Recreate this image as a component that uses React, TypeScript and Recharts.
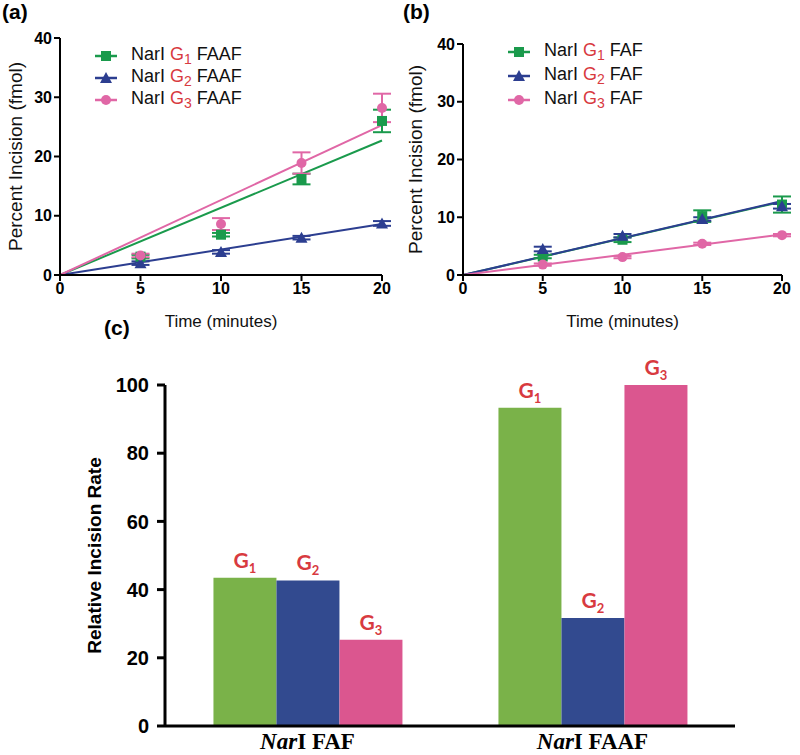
import React from 'react';
import { ComposedChart, Line, Scatter, ErrorBar, XAxis, YAxis, BarChart, Bar, LabelList, Label } from 'recharts';

// time-course panels
const timePoints = [5, 10, 15, 20];
const timeTicks = [0, 5, 10, 15, 20];
const incisionTicks = [0, 10, 20, 30, 40];

// (a) NarI FAAF
const faafG1 = [3.1, 6.8, 16.2, 26.0];
const faafG1Err = [0.3, 0.3, 0.9, 1.9];
const faafG2 = [2.0, 3.9, 6.3, 8.7];
const faafG2Err = [0.3, 0.3, 0.3, 0.4];
const faafG3 = [3.3, 8.6, 18.9, 28.2];
const faafG3Err = [0.3, 1.0, 1.8, 2.4];
const faafFitAt20 = [22.7, 8.6, 25.3];

// (b) NarI FAF
const fafG1 = [3.2, 6.1, 10.2, 12.2];
const fafG1Err = [0.3, 0.4, 1.0, 1.4];
const fafG2 = [4.5, 6.8, 9.7, 11.9];
const fafG2Err = [0.4, 0.3, 0.3, 0.4];
const fafG3 = [1.8, 3.1, 5.4, 6.9];
const fafG3Err = [0.2, 0.2, 0.2, 0.2];
const fafFitAt20 = [12.7, 12.8, 7.0];

// (c) relative rates
const rateCategories = ['FAF', 'FAAF'];
const rateG1 = [43.5, 93.3];
const rateG2 = [42.7, 31.7];
const rateG3 = [25.3, 100];
const rateTicks = [0, 20, 40, 60, 80, 100];

const RED = '#d83a3f';
const lineColors = ['#1a9a4c', '#2c3e90', '#e067a6'];
const barColors = ['#7ab249', '#324a8f', '#db568f'];
const shapes = ['square', 'triangle', 'circle'];
const SANS = '"Liberation Sans", Arial, sans-serif';
const NARROW = '"Liberation Sans Narrow", "Liberation Sans", Arial, sans-serif';

const toPoints = (vals: number[], errs: number[]) =>
  timePoints.map((t, i) => ({ t, v: vals[i], err: errs[i] }));
const toFit = (end: number) => [{ t: 0, v: 0 }, { t: 20, v: end }];

function Marker({ cx, cy, kind, color }: any) {
  if (kind === 'square') return <rect x={cx - 5} y={cy - 5} width={10} height={10} fill={color} />;
  if (kind === 'triangle') return <polygon points={`${cx},${cy - 6} ${cx + 6},${cy + 5} ${cx - 6},${cy + 5}`} fill={color} />;
  return <circle cx={cx} cy={cy} r={5} fill={color} />;
}

function SeriesLegend({ suffix, rowHeight, left, top }: any) {
  return (
    <div style={{ position: 'absolute', left, top, fontFamily: SANS, fontSize: 18, color: '#111' }}>
      {shapes.map((kind, i) => (
        <div key={kind} style={{ display: 'flex', alignItems: 'center', height: rowHeight }}>
          <svg width={22} height={14}>
            <line x1={0} y1={7} x2={22} y2={7} stroke={lineColors[i]} strokeWidth={2.5} />
            <Marker cx={11} cy={7} kind={kind} color={lineColors[i]} />
          </svg>
          <span style={{ marginLeft: 14, whiteSpace: 'nowrap' }}>
            NarI <span style={{ color: RED }}>G<sub style={{ fontSize: 14, verticalAlign: '-0.3em' }}>{i + 1}</sub></span> {suffix}
          </span>
        </div>
      ))}
    </div>
  );
}

const axisProps = {
  axisLine: { stroke: '#000', strokeWidth: 2 },
  tickLine: { stroke: '#000', strokeWidth: 2 },
  tickSize: 6,
  tick: { fill: '#000', fontSize: 16, fontWeight: 'bold', fontFamily: SANS },
};

function TimeCourse({ series, fits, top, yWidth }: any) {
  const plotBottom = 275;
  return (
    <ComposedChart width={400} height={plotBottom + 60} margin={{ top, right: 18, left: 0, bottom: 0 }}>
      <XAxis type="number" dataKey="t" domain={[0, 20]} ticks={timeTicks} height={60} allowDuplicatedCategory={false} {...axisProps}>
        <Label value="Time (minutes)" position="insideBottom" offset={8} style={{ fontFamily: NARROW, fontSize: 17, fill: '#111' }} />
      </XAxis>
      <YAxis type="number" domain={[0, 40]} ticks={incisionTicks} width={yWidth} {...axisProps}>
        <Label value="Percent Incision (fmol)" angle={-90} position="insideLeft" offset={15} style={{ textAnchor: 'middle', fontFamily: SANS, fontSize: 19, fill: '#111' }} />
      </YAxis>
      {fits.map((end: number, i: number) => (
        <Line key={`fit${i}`} data={toFit(end)} dataKey="v" stroke={lineColors[i]} strokeWidth={2} dot={false} isAnimationActive={false} />
      ))}
      {series.map((s: any, i: number) => (
        <Scatter key={`pts${i}`} data={toPoints(s.vals, s.errs)} dataKey="v" isAnimationActive={false}
          shape={(p: any) => <Marker cx={p.cx} cy={p.cy} kind={shapes[i]} color={lineColors[i]} />}>
          <ErrorBar dataKey="err" direction="y" width={9} stroke={lineColors[i]} strokeWidth={2} />
        </Scatter>
      ))}
    </ComposedChart>
  );
}

function GLabel(props: any) {
  const { x, y, width, idx } = props;
  return (
    <text x={x + width / 2} y={y - 10} textAnchor="middle" fill={RED} fontFamily="Lato, sans-serif" fontWeight="bold" fontSize={21}>
      G<tspan fontSize={13} dy={5}>{idx}</tspan>
    </text>
  );
}

function NarTick({ x, y, payload }: any) {
  return (
    <text x={x} y={y + 15} textAnchor="middle" fontFamily='"Liberation Serif", "Times New Roman", serif' fontWeight="bold" fontSize={23} fill="#000">
      <tspan fontStyle="italic">Nar</tspan>I {payload.value}
    </text>
  );
}

const rateData = rateCategories.map((c, i) => ({ c, g1: rateG1[i], g2: rateG2[i], g3: rateG3[i] }));

export default function App() {
  const panelLabel = { position: 'absolute' as const, fontFamily: SANS, fontWeight: 'bold' as const, fontSize: 21 };
  return (
    <div style={{ position: 'absolute', left: 0, top: 0, width: 800, height: 755, background: '#fff' }}>
      <div style={{ ...panelLabel, left: 2, top: 0 }}>(a)</div>
      <div style={{ ...panelLabel, left: 403, top: 0 }}>(b)</div>
      <div style={{ ...panelLabel, left: 104, top: 316 }}>(c)</div>
      <div style={{ position: 'absolute', left: 0, top: 0 }}>
        <TimeCourse top={38} yWidth={60} fits={faafFitAt20}
          series={[{ vals: faafG1, errs: faafG1Err }, { vals: faafG2, errs: faafG2Err }, { vals: faafG3, errs: faafG3Err }]} />
        <SeriesLegend suffix="FAAF" rowHeight={22} left={95} top={45} />
      </div>
      <div style={{ position: 'absolute', left: 400, top: 0 }}>
        <TimeCourse top={44} yWidth={63} fits={fafFitAt20}
          series={[{ vals: fafG1, errs: fafG1Err }, { vals: fafG2, errs: fafG2Err }, { vals: fafG3, errs: fafG3Err }]} />
        <SeriesLegend suffix="FAF" rowHeight={24} left={108} top={40} />
      </div>
      <div style={{ position: 'absolute', left: 0, top: 340 }}>
        <BarChart width={800} height={415} data={rateData} margin={{ top: 45, right: 65, left: 0, bottom: 0 }} barCategoryGap="17%" barGap={0}>
          <XAxis dataKey="c" height={29} axisLine={{ stroke: '#000', strokeWidth: 3 }} tickLine={false} tick={<NarTick />} />
          <YAxis domain={[0, 100]} ticks={rateTicks} width={165} axisLine={{ stroke: '#000', strokeWidth: 3 }}
            tickLine={{ stroke: '#000', strokeWidth: 3 }} tickSize={8} tickMargin={8}
            tick={{ fill: '#000', fontSize: 20, fontWeight: 'bold', fontFamily: NARROW }}>
            <Label value="Relative Incision Rate" angle={-90} position="insideLeft" offset={94} style={{ textAnchor: 'middle', fontFamily: SANS, fontWeight: 'bold', fontSize: 19, fill: '#000' }} />
          </YAxis>
          <Bar dataKey="g1" fill={barColors[0]} isAnimationActive={false}>
            <LabelList dataKey="g1" content={(p: any) => <GLabel {...p} idx={1} />} />
          </Bar>
          <Bar dataKey="g2" fill={barColors[1]} isAnimationActive={false}>
            <LabelList dataKey="g2" content={(p: any) => <GLabel {...p} idx={2} />} />
          </Bar>
          <Bar dataKey="g3" fill={barColors[2]} isAnimationActive={false}>
            <LabelList dataKey="g3" content={(p: any) => <GLabel {...p} idx={3} />} />
          </Bar>
        </BarChart>
      </div>
    </div>
  );
}
